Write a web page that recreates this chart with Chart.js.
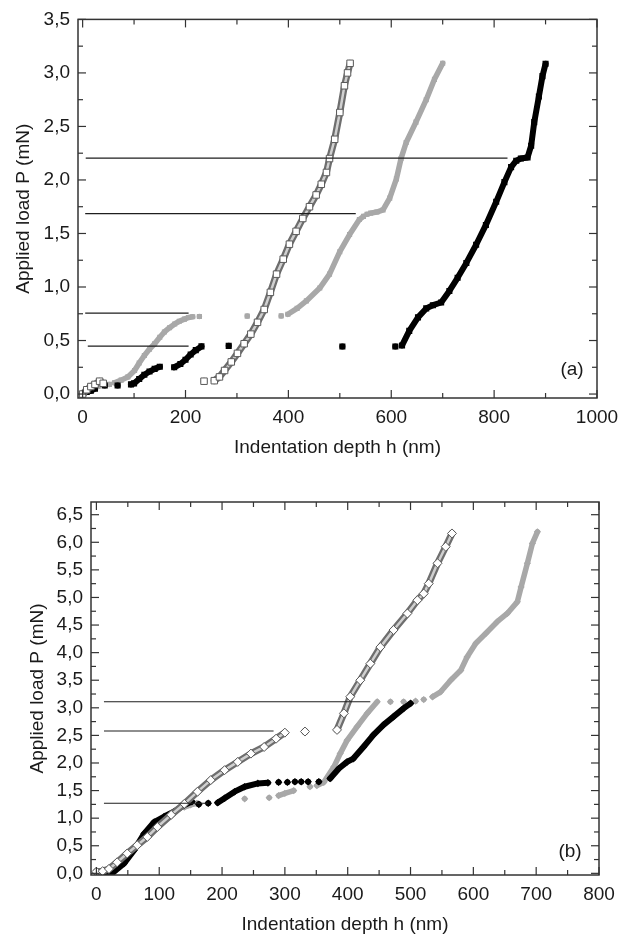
<!DOCTYPE html>
<html>
<head>
<meta charset="utf-8">
<script src="https://cdn.jsdelivr.net/npm/chart.js@4.4.0/dist/chart.umd.min.js"></script>
<style>
body { margin: 0; background: #fff; overflow: hidden; }
canvas { position: absolute; left: 0; }
#a { top: 0; }
#b { top: 460px; }
</style>
</head>
<body>
<canvas id="a" width="628" height="465"></canvas>
<canvas id="b" width="628" height="474"></canvas>
<script>
// ---- panel (a) ----
var xTicksA = [0, 200, 400, 600, 800, 1000];
var yTicksA = [0, 0.5, 1, 1.5, 2, 2.5, 3, 3.5];

// null breaks the curve (gaps / isolated points)
var aOpenH = [0, 8, 16, 24, 33, 40, null, 236, null, 256, 266, 276, 289, 301, 314, 327, 340, 353, 365, 377, 390, 402, 415, 428, 441, 454, 464, 474, 480, 490, 500, 509, 515, 520];
var aOpenP = [0, 0.04, 0.07, 0.09, 0.12, 0.1, null, 0.12, null, 0.125, 0.16, 0.22, 0.3, 0.38, 0.47, 0.56, 0.67, 0.79, 0.95, 1.12, 1.26, 1.4, 1.52, 1.64, 1.75, 1.86, 1.96, 2.07, 2.2, 2.38, 2.63, 2.88, 3.0, 3.09];

var aGreyH = [0, 10, 20, 30, null, 52, null, 62, 75, 88, 101, 110, 120, 130, 140, 150, 159, 169, 179, 188, 198, 206, 214, null, 227, null, 320, null, 386, null, 399, 417, 435, 461, 480, 500, 519, 538, 546, null, 553, null, 560, 572, 584, 597, 610, 619, 629, 648, 668, 684, 700];
var aGreyP = [0, 0.03, 0.05, 0.07, null, 0.09, null, 0.105, 0.13, 0.16, 0.22, 0.29, 0.36, 0.42, 0.47, 0.53, 0.58, 0.62, 0.655, 0.68, 0.7, 0.715, 0.722, null, 0.725, null, 0.728, null, 0.73, null, 0.745, 0.8, 0.87, 0.99, 1.12, 1.33, 1.49, 1.63, 1.66, null, 1.68, null, 1.69, 1.7, 1.72, 1.83, 2.01, 2.2, 2.35, 2.54, 2.75, 2.94, 3.09];

var aBlackH = [0, 8, 16, 24, null, 43, null, 68, null, 94, 100, 110, 120, 130, 140, 150, null, 178, 190, 200, 210, 220, 231, null, 284, null, 505, null, 608, null, 621, 635, 652, 668, 681, 697, 713, 729, 746, 765, 784, 804, 820, 833, 843, 852, 865, 872, 878, 887, 894, 900];
var aBlackP = [0, 0.02, 0.03, 0.05, null, 0.08, null, 0.08, null, 0.09, 0.1, 0.14, 0.18, 0.21, 0.235, 0.255, null, 0.25, 0.28, 0.32, 0.37, 0.41, 0.445, null, 0.45, null, 0.444, null, 0.444, null, 0.454, 0.59, 0.716, 0.8, 0.83, 0.855, 0.963, 1.086, 1.225, 1.395, 1.58, 1.796, 1.98, 2.12, 2.18, 2.2, 2.21, 2.32, 2.54, 2.78, 2.97, 3.086];

var aLevels = [0.447, 0.756, 1.685, 2.204];
var aLevelFrom = [10, 5, 5, 6];
var aLevelTo = [206, 206, 531, 826];

// ---- panel (b) ----
var xTicksB = [0, 100, 200, 300, 400, 500, 600, 700, 800];
var yTicksB = [0, 0.5, 1, 1.5, 2, 2.5, 3, 3.5, 4, 4.5, 5, 5.5, 6, 6.5];

var bOpenH = [0, 10, 20, 33, 49, 65, 81, 97, 119, 140, 161, 182, 204, 225, 246, 267, 286, 300, null, 332, null, 383, 394, 404, 420, 436, 452, 473, 495, 511, 521, 529, 543, 556, 566];
var bOpenP = [0.03, 0.04, 0.08, 0.2, 0.36, 0.51, 0.66, 0.84, 1.06, 1.26, 1.48, 1.69, 1.87, 2.02, 2.17, 2.29, 2.44, 2.55, null, 2.57, null, 2.6, 2.9, 3.2, 3.5, 3.8, 4.1, 4.41, 4.71, 4.95, 5.07, 5.25, 5.62, 5.92, 6.16];

var bBlackH = [13, 28, 44, 60, 76, 92, 108, 124, 140, 152, null, 163, null, 178, null, 193, 204, 220, 236, 257, 273, null, 290, null, 304, null, 316, null, 326, null, 337, null, 354, null, 372, 386, 399, 409, 425, 441, 457, 473, 489, 500];
var bBlackP = [0, 0.03, 0.18, 0.42, 0.72, 0.93, 1.03, 1.12, 1.24, 1.3, null, 1.25, null, 1.27, null, 1.28, 1.36, 1.48, 1.57, 1.63, 1.64, null, 1.65, null, 1.65, null, 1.66, null, 1.66, null, 1.66, null, 1.66, null, 1.72, 1.9, 2.02, 2.08, 2.29, 2.51, 2.69, 2.84, 2.99, 3.08];

var bGreyH = [140, 150, 160, null, 236, null, 275, null, 290, 300, 314, null, 340, null, 351, 362, 378, 388, 399, 415, 431, 447, null, 468, null, 489, null, 508, null, 521, null, 535, 548, 564, 580, 590, 604, 620, 638, 654, 670, 676, 686, 694, 702];
var bGreyP = [1.2, 1.24, 1.27, null, 1.35, null, 1.37, null, 1.41, 1.45, 1.5, null, 1.57, null, 1.59, 1.65, 1.93, 2.17, 2.41, 2.66, 2.9, 3.11, null, 3.11, null, 3.11, null, 3.12, null, 3.15, null, 3.2, 3.29, 3.5, 3.68, 3.92, 4.17, 4.35, 4.56, 4.71, 4.92, 5.19, 5.62, 5.98, 6.19];

var bLevels = [1.27, 2.58, 3.11];
var bLevelFrom = [12, 12, 12];
var bLevelTo = [178, 282, 436];

var FONT = "'Liberation Sans', Arial, Helvetica, sans-serif";

function series(h, p) {
    return h.map(function (v, i) { return {x: v, y: p[i]}; });
}
function levels(lv, from, to) {
    var out = [];
    lv.forEach(function (y, i) {
        out.push({x: from[i], y: y}, {x: to[i], y: y}, {x: null, y: null});
    });
    return out;
}
function mids(t) {
    var out = [];
    for (var i = 0; i < t.length - 1; i++) out.push((t[i] + t[i + 1]) / 2);
    return out;
}

// box + inward tick marks on all four sides, panel letter
var frameTicks = {
    id: 'frameTicks',
    afterDraw: function (chart, args, o) {
        var ctx = chart.ctx, a = chart.chartArea, x = chart.scales.x, y = chart.scales.y;
        ctx.save();
        ctx.strokeStyle = '#333';
        ctx.lineWidth = 1.2;
        function seg(x1, y1, x2, y2) { ctx.beginPath(); ctx.moveTo(x1, y1); ctx.lineTo(x2, y2); ctx.stroke(); }
        function xt(vals, len) {
            vals.forEach(function (v) {
                var p = x.getPixelForValue(v);
                seg(p, a.bottom, p, a.bottom - len);
                seg(p, a.top, p, a.top + len);
            });
        }
        function yt(vals, len) {
            vals.forEach(function (v) {
                var p = y.getPixelForValue(v);
                seg(a.left, p, a.left + len, p);
                seg(a.right, p, a.right - len, p);
            });
        }
        xt(o.xTicks, 8); xt(mids(o.xTicks), 5);
        yt(o.yTicks, 8); yt(mids(o.yTicks), 5);
        ctx.lineWidth = 1.5;
        ctx.strokeRect(a.left, a.top, a.right - a.left, a.bottom - a.top);
        ctx.fillStyle = '#1a1a1a';
        ctx.font = '19px ' + FONT;
        ctx.textAlign = 'center';
        ctx.textBaseline = 'middle';
        ctx.fillText(o.label, a.right - o.labelDx, a.bottom - o.labelDy);
        ctx.restore();
    }
};

function makeChart(id, p) {
    var tickFont = {family: FONT, size: 19};
    var openData = series(p.openH, p.openP);
    new Chart(document.getElementById(id), {
        type: 'scatter',
        data: {
            datasets: [
                {data: levels(p.lv, p.lvFrom, p.lvTo), showLine: true, borderColor: '#1e1e1e', borderWidth: 1.2, pointRadius: 0},
                // open symbols: pale core over a darker outline band
                {data: openData, showLine: true, borderColor: '#d0d0d0', borderWidth: 2.5,
                 borderJoinStyle: 'round', borderCapStyle: 'round',
                 pointStyle: p.shape, pointRadius: p.rOpen, pointBackgroundColor: '#fff', pointBorderColor: '#5a5a5a', pointBorderWidth: 1},
                {data: openData, showLine: true, borderColor: '#6e6e6e', borderWidth: 7,
                 borderJoinStyle: 'round', borderCapStyle: 'round', pointRadius: 0},
                {data: series(p.blackH, p.blackP), showLine: true, borderColor: '#000', borderWidth: 6,
                 borderJoinStyle: 'round', borderCapStyle: 'round',
                 pointStyle: p.shape, pointRadius: p.rBlack, pointBackgroundColor: '#000', pointBorderWidth: 0},
                {data: series(p.greyH, p.greyP), showLine: true, borderColor: '#a8a8a8', borderWidth: 5.5,
                 borderJoinStyle: 'round', borderCapStyle: 'round',
                 pointStyle: p.shape, pointRadius: p.rGrey, pointBackgroundColor: '#a8a8a8', pointBorderWidth: 0}
            ]
        },
        options: {
            responsive: false,
            animation: false,
            events: [],
            layout: {padding: p.pad},
            plugins: {
                legend: {display: false},
                tooltip: {enabled: false},
                frameTicks: {xTicks: p.xTicks, yTicks: p.yTicks, label: p.label, labelDx: p.labelDx, labelDy: p.labelDy}
            },
            scales: {
                x: {
                    type: 'linear', min: p.xMin, max: p.xMax,
                    afterBuildTicks: function (s) { s.ticks = p.xTicks.map(function (v) { return {value: v}; }); },
                    afterFit: function (s) { s.height = p.xH; },
                    ticks: {font: tickFont, color: '#1a1a1a', padding: 8, maxRotation: 0, autoSkip: false,
                            callback: function (v) { return String(v); }},
                    grid: {display: false, drawTicks: false},
                    border: {display: false},
                    title: {display: true, text: 'Indentation depth h (nm)', color: '#1a1a1a',
                            font: {family: FONT, size: 19, lineHeight: 1}, padding: {top: 0, bottom: p.xTitlePad}}
                },
                y: {
                    type: 'linear', min: p.yMin, max: p.yMax,
                    afterBuildTicks: function (s) { s.ticks = p.yTicks.map(function (v) { return {value: v}; }); },
                    afterFit: function (s) { s.width = p.yW; },
                    ticks: {font: tickFont, color: '#1a1a1a', padding: 8, autoSkip: false,
                            callback: function (v) { return v.toFixed(1).replace('.', ','); }},
                    grid: {display: false, drawTicks: false},
                    border: {display: false},
                    title: {display: true, text: 'Applied load P (mN)', color: '#1a1a1a',
                            font: {family: FONT, size: 19, lineHeight: 1}, padding: {top: p.yTitlePad, bottom: 0}}
                }
            }
        },
        plugins: [frameTicks]
    });
}

makeChart('a', {
    xTicks: xTicksA, yTicks: yTicksA, xMin: -9, xMax: 1000, yMin: -0.037, yMax: 3.5,
    openH: aOpenH, openP: aOpenP, greyH: aGreyH, greyP: aGreyP, blackH: aBlackH, blackP: aBlackP,
    lv: aLevels, lvFrom: aLevelFrom, lvTo: aLevelTo,
    shape: 'rect', rOpen: 4.6, rBlack: 4.3, rGrey: 3.6, label: '(a)', labelDx: 25, labelDy: 28,
    pad: {left: 0, top: 16, right: 31, bottom: 0}, xH: 67, yW: 78, xTitlePad: 8, yTitlePad: 14
});

makeChart('b', {
    xTicks: xTicksB, yTicks: yTicksB, xMin: -8.6, xMax: 800, yMin: -0.03, yMax: 6.73,
    openH: bOpenH, openP: bOpenP, greyH: bGreyH, greyP: bGreyP, blackH: bBlackH, blackP: bBlackP,
    lv: bLevels, lvFrom: bLevelFrom, lvTo: bLevelTo,
    shape: 'rectRot', rOpen: 4.5, rBlack: 3.8, rGrey: 3.6, label: '(b)', labelDx: 29, labelDy: 23,
    pad: {left: 0, top: 42, right: 29, bottom: 0}, xH: 59, yW: 91, xTitlePad: 0, yTitlePad: 28
});
</script>
</body>
</html>
